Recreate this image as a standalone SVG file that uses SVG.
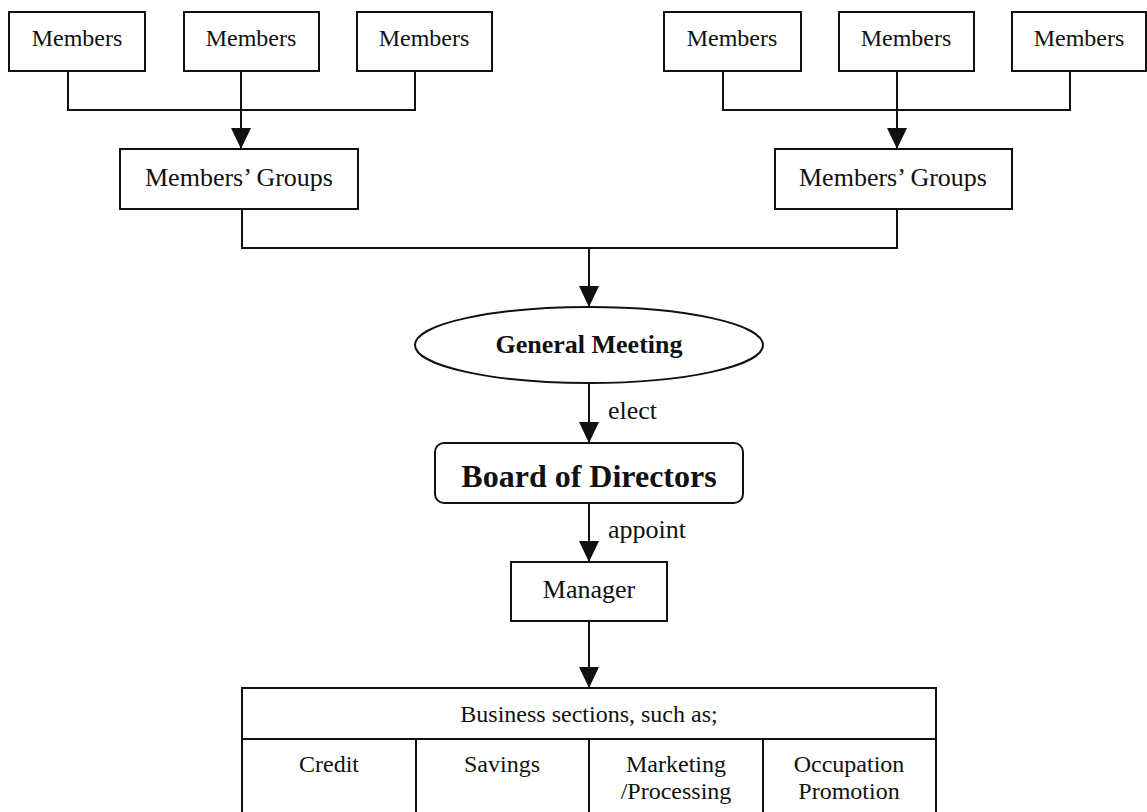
<svg xmlns="http://www.w3.org/2000/svg" width="1147" height="812" viewBox="0 0 1147 812">
<style>
.box{fill:#fff;stroke:#111;stroke-width:2}
.ln{fill:none;stroke:#111;stroke-width:2}
.arr{fill:none;stroke:#111;stroke-width:2;marker-end:url(#arr)}
.t{font-family:"Liberation Serif","Times New Roman",serif;fill:#111;text-anchor:middle}
.m{font-size:24px}
.g{font-size:26px}
.b{font-weight:bold}
.lbl{font-family:"Liberation Serif","Times New Roman",serif;fill:#111;font-size:26px}
</style>
<defs>
<marker id="arr" viewBox="0 0 21 20" refX="21" refY="10" markerWidth="21" markerHeight="20" markerUnits="userSpaceOnUse" orient="auto">
<path d="M0,0 L21,10 L0,20 Z" fill="#111"/>
</marker>
</defs>
<rect width="1147" height="812" fill="#fff"/>
<g id="connectors">
<path class="ln" d="M68,71 V110 H415 V71"/>
<path class="arr" d="M241,71 V149"/>
<path class="ln" d="M723,71 V110 H1070 V71"/>
<path class="arr" d="M897,71 V149"/>
<path class="ln" d="M242,209 V248 H897 V209"/>
<path class="arr" d="M589,248 V307"/>
<path class="arr" d="M589,383 V443"/>
<text class="lbl" x="608" y="419">elect</text>
<path class="arr" d="M589,503 V562"/>
<text class="lbl" x="608" y="538">appoint</text>
<path class="arr" d="M589,621 V688"/>
</g>
<g id="members1"><rect class="box" x="9" y="12" width="136" height="59"/><text class="t m" x="77" y="46">Members</text></g>
<g id="members2"><rect class="box" x="184" y="12" width="135" height="59"/><text class="t m" x="251" y="46">Members</text></g>
<g id="members3"><rect class="box" x="357" y="12" width="135" height="59"/><text class="t m" x="424" y="46">Members</text></g>
<g id="members4"><rect class="box" x="664" y="12" width="137" height="59"/><text class="t m" x="732" y="46">Members</text></g>
<g id="members5"><rect class="box" x="839" y="12" width="135" height="59"/><text class="t m" x="906" y="46">Members</text></g>
<g id="members6"><rect class="box" x="1012" y="12" width="134" height="59"/><text class="t m" x="1079" y="46">Members</text></g>
<g id="groups1"><rect class="box" x="120" y="149" width="238" height="60"/><text class="t g" x="239" y="186">Members’ Groups</text></g>
<g id="groups2"><rect class="box" x="775" y="149" width="237" height="60"/><text class="t g" x="893" y="186">Members’ Groups</text></g>
<g id="general-meeting"><ellipse class="box" cx="589" cy="345" rx="174" ry="38"/><text class="t g b" x="589" y="353">General Meeting</text></g>
<g id="board"><rect class="box" x="435" y="443" width="308" height="60" rx="9"/><text class="t b" style="font-size:32px" x="589" y="487">Board of Directors</text></g>
<g id="manager"><rect class="box" x="511" y="562" width="156" height="59"/><text class="t g" x="589" y="598">Manager</text></g>
<g id="business-sections">
<rect class="box" x="242" y="688" width="694" height="140"/>
<path class="ln" d="M242,739 H936 M416,739 V830 M589,739 V830 M763,739 V830"/>
<text class="t m" x="589" y="722">Business sections, such as;</text>
<text class="t m" x="329" y="772">Credit</text>
<text class="t m" x="502" y="772">Savings</text>
<text class="t m" x="676" y="772">Marketing</text>
<text class="t m" x="676" y="799">/Processing</text>
<text class="t m" x="849" y="772">Occupation</text>
<text class="t m" x="849" y="799">Promotion</text>
</g>
</svg>
